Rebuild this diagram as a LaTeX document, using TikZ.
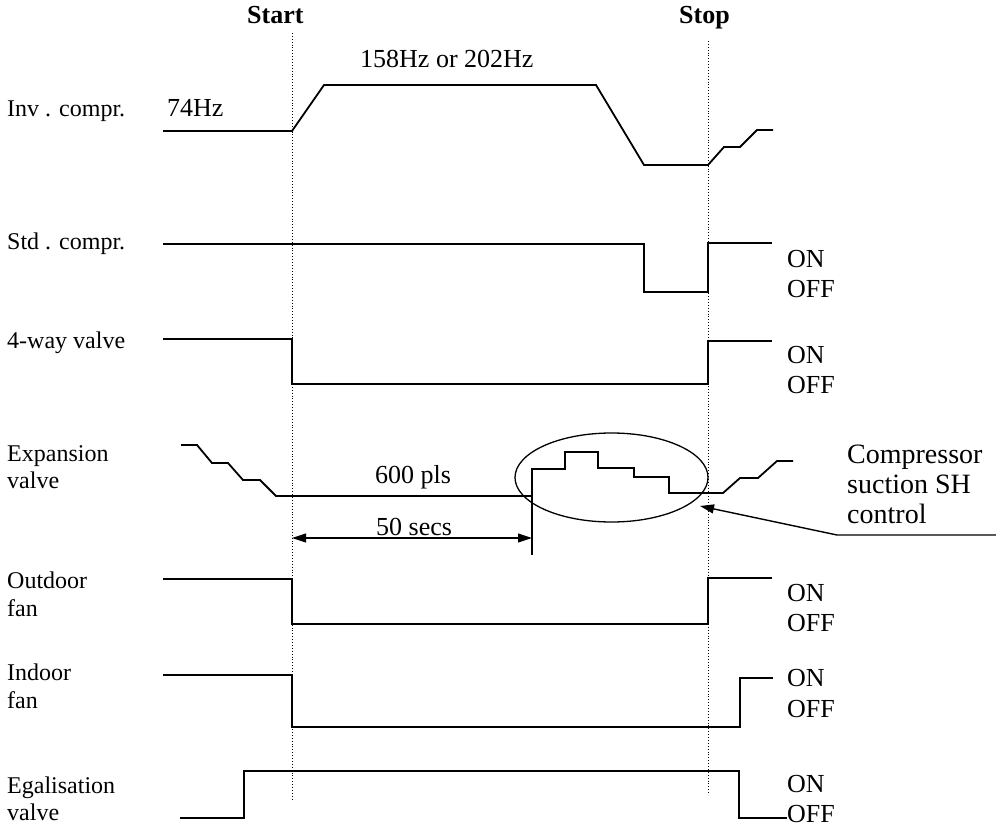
\documentclass[tikz,border=0pt]{standalone}
\usepackage{fontspec}
\setmainfont{Liberation Serif}
\usetikzlibrary{arrows.meta}
\begin{document}
\begin{tikzpicture}[x=1pt,y=-1pt,
  sig/.style={line width=1.8pt, line join=miter},
  guide/.style={line width=0.9pt, dotted},
  thin/.style={line width=1.1pt},
  lbl/.style={anchor=base west, inner sep=0pt, font=\fontsize{26}{28}\selectfont},
  rowlbl/.style={anchor=base west, inner sep=0pt, font=\fontsize{24}{28}\selectfont},
  calllbl/.style={anchor=base west, inner sep=0pt, font=\fontsize{28}{30}\selectfont},
  hdr/.style={anchor=base west, inner sep=0pt, font=\fontsize{26}{28}\selectfont\bfseries},
  tip/.style={-{Triangle[length=14pt,width=9pt]}},
]
\useasboundingbox (0,0) rectangle (996,829);

% row labels
\node[rowlbl] (linv) at (7,117) {Inv . compr.};
\node[rowlbl] (lstd) at (7,250) {Std . compr.};
\node[rowlbl] (lway) at (7,348) {4-way valve};
\node[rowlbl] (lexpa) at (7,461) {Expansion};
\node[rowlbl] (lexpb) at (7,488) {valve};
\node[rowlbl] (louta) at (7,588) {Outdoor};
\node[rowlbl] (loutb) at (7,616) {fan};
\node[rowlbl] (lina) at (7,680) {Indoor};
\node[rowlbl] (linb) at (7,708) {fan};
\node[rowlbl] (lega) at (7,793) {Egalisation};
\node[rowlbl] (legb) at (7,820) {valve};

% headers
\node[hdr] (start) at (247,24) {Start};
\node[hdr] (stop) at (679,24) {Stop};

% guide lines
\coordinate (sa) at (292,33); \coordinate (sb) at (292,800);
\coordinate (ta) at (708,41); \coordinate (tb) at (708,795);
\draw[guide] (sa) -- (sb);
\draw[guide] (ta) -- (tb);

% Inv compressor
\draw[sig] (163,131)--(292,131)--(324,85)--(596,85)--(644,165)--(708,165)--(724,147)--(740,147)--(757,130)--(773,130);
\node[lbl] (f74) at (167,117) {74Hz};
\node[lbl] (fhi) at (360,68) {158Hz or 202Hz};

% Std compressor
\draw[sig] (163,244)--(644,244)--(644,292)--(708,292)--(708,243)--(772,243);
\node[lbl] (on1) at (787,267) {ON};
\node[lbl] (off1) at (787,297) {OFF};

% 4-way valve
\draw[sig] (163,339)--(292,339)--(292,384)--(708,384)--(708,341)--(772,341);
\node[lbl] (on2) at (787,363) {ON};
\node[lbl] (off2) at (787,393) {OFF};

% Expansion valve
\draw[sig] (181,445)--(197,445)--(212,463)--(228,463)--(243,480)--(260,480)--(276,496)--(532,496)--(532,469)--(565,469)--(565,452)--(598,452)--(598,468)--(634,468)--(634,477)--(669,477)--(669,493)--(723,493)--(740,478)--(758,478)--(777,461)--(793,461);
\node[lbl] (p600) at (375,483) {600 pls};
\draw[line width=1.3pt] (611.5,477.5) ellipse [x radius=96.5, y radius=44.5];
\coordinate (da) at (292,538); \coordinate (db) at (532,538);
\coordinate (ta1) at (532,496); \coordinate (ta2) at (532,555);
\draw[thin] (ta1) -- (ta2);
\draw[thin,{Triangle[length=14pt,width=9pt]}-{Triangle[length=14pt,width=9pt]}] (da) -- (db);
\node[lbl] (s50) at (376,535) {50 secs};

% callout
\node[calllbl] (c1) at (847,463) {Compressor};
\node[calllbl] (c2) at (847,493) {suction SH};
\node[calllbl] (c3) at (847,523) {control};
\coordinate (ce) at (996,535); \coordinate (ck) at (837,535); \coordinate (ct) at (700,506);
\draw[line width=1.4pt,tip] (ce) -- (ck) -- (ct);

% Outdoor fan
\draw[sig] (163,579)--(292,579)--(292,624)--(708,624)--(708,578)--(772,578);
\node[lbl] (on3) at (787,601) {ON};
\node[lbl] (off3) at (787,631) {OFF};

% Indoor fan
\draw[sig] (163,675)--(292,675)--(292,727)--(740,727)--(740,678)--(773,678);
\node[lbl] (on4) at (787,686) {ON};
\node[lbl] (off4) at (787,717) {OFF};

% Egalisation valve
\draw[sig] (180,818)--(244,818)--(244,771)--(739,771)--(739,818)--(787,818);
\node[lbl] (on5) at (787,792) {ON};
\node[lbl] (off5) at (787,822) {OFF};
\end{tikzpicture}
\end{document}
